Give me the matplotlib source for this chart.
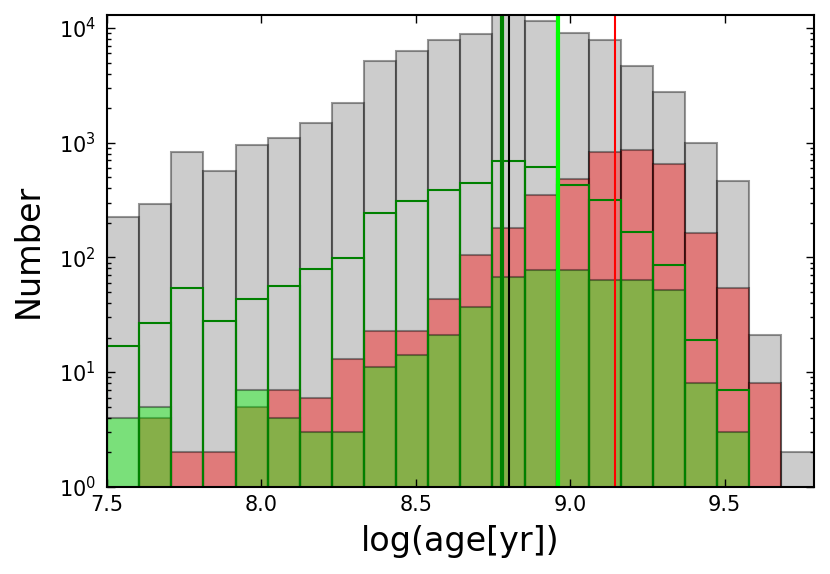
import numpy as np
import matplotlib
matplotlib.use('Agg')
import matplotlib.pyplot as plt

# histogram bins in log(age)
edges = np.linspace(7.5, 9.788, 23)

# counts per bin
all_stars = [227, 290, 836, 570, 949, 1109, 1489, 2240, 5116, 6340, 7850,
             8870, 14500, 11600, 9040, 7910, 4650, 2740, 1003, 460, 21, 2]
red_sample = [0, 4, 2, 2, 5, 7, 6, 13, 23, 23, 43,
              105, 180, 352, 483, 836, 871, 656, 163, 54, 8, 0]
green_sample = [4, 5, 0, 0, 7, 4, 3, 3, 11, 14, 21,
                37, 67, 78, 78, 64, 64, 52, 8, 3, 0, 0]
green_outline = [17, 27, 54, 28, 43, 56, 79, 99, 243, 312, 387,
                 445, 693, 609, 430, 314, 167, 85, 19, 7, 0, 0]

# median ages
med_green_out = 8.780
med_all = 8.800
med_green = 8.959
med_red = 9.146

plt.rcParams['font.family'] = 'DejaVu Sans'
plt.rcParams['axes.linewidth'] = 1.5

fig = plt.figure(figsize=(8.3, 5.74), dpi=100, facecolor='white')
ax = fig.add_axes([0.129, 0.152, 0.852, 0.822])

centers = 0.5 * (edges[:-1] + edges[1:])
ax.hist(centers, bins=edges, weights=all_stars, color='gray', alpha=0.4,
        edgecolor='k', linewidth=1.5, log=True)
ax.hist(centers, bins=edges, weights=red_sample, color='red', alpha=0.4,
        edgecolor='k', linewidth=1.5, log=True)
ax.hist(centers, bins=edges, weights=green_sample, color='lime', alpha=0.4,
        edgecolor='k', linewidth=1.5, log=True)
ax.hist(centers, bins=edges, weights=green_outline, fill=False,
        edgecolor='green', linewidth=1.5, log=True)

ax.axvline(med_green_out, color='green', linewidth=3)
ax.axvline(med_all, color='k', linewidth=1.5)
ax.axvline(med_green, color='lime', linewidth=3)
ax.axvline(med_red, color='red', linewidth=1.5)

ax.set_xlim(7.5, 9.79)
ax.set_ylim(1, 1.3e4)
ax.set_xticks([7.5, 8.0, 8.5, 9.0, 9.5])
ax.set_xticklabels(['7.5', '8.0', '8.5', '9.0', '9.5'])
ax.tick_params(which='both', direction='in', top=True, right=True, labelsize=15)
ax.tick_params(which='major', length=6, width=1)
ax.tick_params(which='minor', length=3, width=1)
ax.tick_params(axis='x', which='major', pad=6)
ax.tick_params(axis='y', which='major', pad=8)

ax.set_xlabel('log(age[yr])', fontsize=24)
ax.set_ylabel('Number', fontsize=24)
ax.yaxis.set_label_coords(-0.088, 0.5)
ax.xaxis.set_label_coords(0.5, -0.082)

fig.savefig('out.png', dpi=100, facecolor='white')
